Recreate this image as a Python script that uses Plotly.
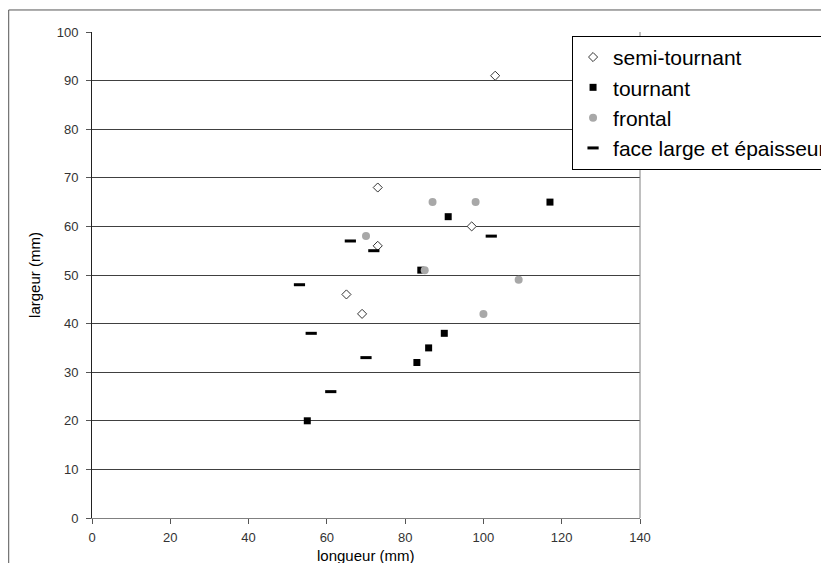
import plotly.graph_objects as go

# longueur / largeur (mm) for each type of piece
semi_x = [103, 73, 97, 73, 65, 69]
semi_y = [91, 68, 60, 56, 46, 42]

tour_x = [117, 91, 84, 90, 86, 83, 55]
tour_y = [65, 62, 51, 38, 35, 32, 20]

front_x = [87, 98, 70, 85, 109, 100]
front_y = [65, 65, 58, 51, 49, 42]

face_x = [66, 72, 102, 53, 56, 70, 61]
face_y = [57, 55, 58, 48, 38, 33, 26]

x_ticks = [0, 20, 40, 60, 80, 100, 120, 140]
y_ticks = [0, 10, 20, 30, 40, 50, 60, 70, 80, 90, 100]

font_family = 'Liberation Sans, Arial, sans-serif'

fig = go.Figure()

fig.add_trace(go.Scatter(x=semi_x, y=semi_y, mode='markers', name='semi-tournant',
                         marker={'symbol': 'diamond', 'size': 7, 'color': '#ffffff',
                                 'line': {'color': '#333333', 'width': 1}}))
fig.add_trace(go.Scatter(x=tour_x, y=tour_y, mode='markers', name='tournant',
                         marker={'symbol': 'square', 'size': 7, 'color': '#000000',
                                 'line': {'width': 0}}))
fig.add_trace(go.Scatter(x=front_x, y=front_y, mode='markers', name='frontal',
                         marker={'symbol': 'circle', 'size': 8, 'color': '#a8a8a8',
                                 'line': {'width': 0}}))
fig.add_trace(go.Scatter(x=face_x, y=face_y, mode='markers', name='face large et épaisseur',
                         marker={'symbol': 'line-ew', 'size': 8,
                                 'line': {'color': '#000000', 'width': 3}}))

layout = {
    'width': 829,
    'height': 563,
    'plot_bgcolor': '#ffffff',
    'paper_bgcolor': '#ffffff',
    'font': {'family': font_family, 'color': '#000000'},
    'margin': {'l': 84, 'r': 197, 't': 24, 'b': 53, 'autoexpand': False},
    'xaxis': {
        'range': [0, 140],
        'tickvals': x_ticks,
        'showgrid': False,
        'zeroline': False,
        'showline': True,
        'linecolor': '#808080',
        'linewidth': 1,
        'ticks': 'outside',
        'ticklen': 5,
        'tickcolor': '#555555',
        'ticklabelstandoff': 2,
        'tickfont': {'size': 13, 'color': '#333333'},
        'automargin': False,
        'fixedrange': True,
    },
    'yaxis': {
        'range': [0, 100],
        'tickvals': y_ticks,
        'showgrid': True,
        'gridcolor': '#404040',
        'gridwidth': 1,
        'zeroline': False,
        'showline': True,
        'linecolor': '#222222',
        'linewidth': 1,
        'ticks': 'outside',
        'ticklen': 5,
        'tickcolor': '#555555',
        'ticklabelstandoff': 5,
        'tickfont': {'size': 13, 'color': '#333333'},
        'title': {'text': 'largeur (mm)', 'font': {'size': 15}, 'standoff': 12},
        'automargin': False,
        'fixedrange': True,
    },
    'legend': {
        'x': 0.876, 'y': 0.992, 'xanchor': 'left', 'yanchor': 'top',
        'bgcolor': '#ffffff', 'bordercolor': '#000000', 'borderwidth': 1,
        'font': {'size': 21, 'color': '#000000'},
        'itemwidth': 30,
        'tracegroupgap': 0,
    },
    'showlegend': True,
}
fig.update_layout(layout)

# x axis title placed by hand so it stays inside the page
fig.add_annotation(text='longueur (mm)', xref='paper', yref='paper', x=0.5, y=-0.056,
                   xanchor='center', yanchor='top', showarrow=False,
                   font={'size': 15, 'color': '#000000'})

# right edge of plot area and outer chart border
fig.add_shape(type='line', xref='paper', yref='paper', x0=1, x1=1, y0=0, y1=1,
              line={'color': '#808080', 'width': 1})
fig.add_shape(type='rect', xref='paper', yref='paper', x0=-0.152, x1=2, y0=-1, y1=1.0453,
              line={'color': '#555555', 'width': 1}, layer='below')

fig.write_html('out.html', config={'displayModeBar': False})
